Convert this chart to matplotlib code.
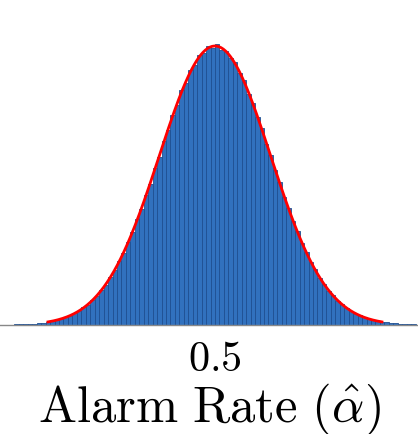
import numpy as np
import matplotlib.pyplot as plt

plt.rcParams['mathtext.fontset'] = 'cm'

# histogram of the alarm rate, 100 bins over [0.3, 0.7]
bin_lo = 0.3
bin_hi = 0.7
counts = [1, 1, 2, 4, 3, 6, 8, 9, 14, 16, 23, 27, 37, 44, 59, 70, 90, 106, 137, 160,
          201, 233, 290, 331, 405, 462, 552, 625, 735, 826, 952, 1060, 1210, 1325, 1492, 1618,
          1796, 1925, 2104, 2230, 2405, 2520, 2685, 2770, 2915, 2980, 3090, 3110, 3195, 3170,
          3215, 3150, 3140, 3055, 3010, 2880, 2800, 2650, 2545, 2378, 2255, 2075, 1948, 1770,
          1640, 1468, 1345, 1185, 1075, 935, 840, 718, 640, 538, 475, 392, 342, 279, 241, 193,
          166, 130, 111, 86, 73, 55, 46, 34, 29, 21, 18, 12, 10, 7, 6, 4, 3, 2, 1, 1]

tick_vals = [0.5]
tick_labels = ['$0.5$']
xlabel = r'$\mathrm{Alarm\ Rate}\ (\hat{\alpha})$'

edges = np.linspace(bin_lo, bin_hi, len(counts) + 1)
centers = (edges[:-1] + edges[1:]) / 2
bw = edges[1] - edges[0]

# normal fit from the binned data
n = np.sum(counts)
mu = np.sum(centers * np.array(counts)) / n
sd = np.sqrt(np.sum(np.array(counts) * (centers - mu) ** 2) / n)
xs = np.linspace(mu - 3.0 * sd, mu + 3.0 * sd, 300)
ys = n * bw * np.exp(-0.5 * ((xs - mu) / sd) ** 2) / (sd * np.sqrt(2 * np.pi))

fig = plt.figure(figsize=(4.18, 4.34), dpi=100)
ax = fig.add_axes([0, 109 / 434, 1, 325 / 434])

ax.hist(centers, bins=edges, weights=counts, color='#3171be',
        edgecolor='#1f4f92', linewidth=0.6)
ax.plot(xs, ys, color='red', linewidth=2.0)

# 0.5 sits at x=215 px, sigma ~ 55.7 px
k = 3 * sd
ax.set_xlim(0.5 - k * 215 / 167, 0.5 + k * 203 / 167)
ax.set_ylim(0, ys.max() * 325 / 279)

for s in ['top', 'left', 'right']:
    ax.spines[s].set_visible(False)
ax.spines['bottom'].set_color('#888888')
ax.spines['bottom'].set_linewidth(1.0)
ax.set_yticks([])
ax.set_xticks(tick_vals, tick_labels, fontsize=30.5)
ax.tick_params(axis='x', length=0, pad=9.5)
ax.set_xlabel(xlabel, fontsize=36.5, labelpad=0.5)

fig.savefig('out.png', dpi=100)
